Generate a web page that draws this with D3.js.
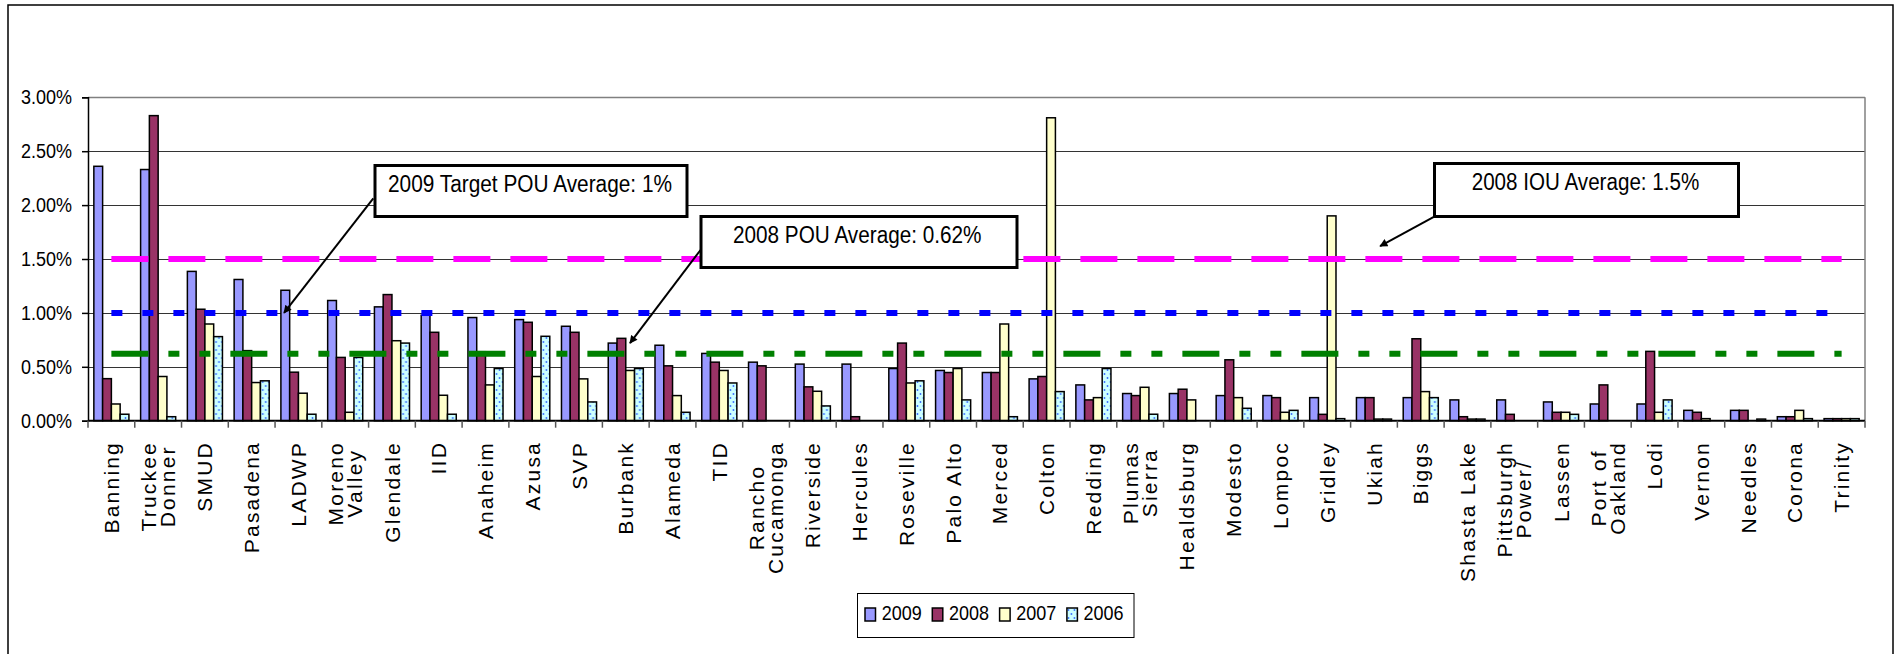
<!DOCTYPE html>
<html>
<head>
<meta charset="utf-8">
<script src="https://cdn.jsdelivr.net/npm/d3@7"></script>
<style>
  html, body { margin: 0; padding: 0; background: #fff; }
  svg { display: block; font-family: "Liberation Sans", Arial, sans-serif; }
</style>
</head>
<body>
<svg id="chart" width="1894" height="654"></svg>
<script>
//categories (utilities), "\n" marks the label line breaks
var categories = ["Banning", "Truckee\nDonner", "SMUD", "Pasadena", "LADWP", "Moreno\nValley",
  "Glendale", "IID", "Anaheim", "Azusa", "SVP", "Burbank", "Alameda", "TID", "Rancho\nCucamonga",
  "Riverside", "Hercules", "Roseville", "Palo Alto", "Merced", "Colton", "Redding", "Plumas\nSierra",
  "Healdsburg", "Modesto", "Lompoc", "Gridley", "Ukiah", "Biggs", "Shasta Lake", "Pittsburgh\nPower/",
  "Lassen", "Port of\nOakland", "Lodi", "Vernon", "Needles", "Corona", "Trinity"];

//series values in percent
var v2009 = [2.36, 2.33, 1.385, 1.31, 1.21, 1.115, 1.056, 0.978, 0.957, 0.938, 0.876, 0.72, 0.70, 0.624,
  0.543, 0.525, 0.525, 0.484, 0.466, 0.447, 0.388, 0.332, 0.252, 0.252, 0.233, 0.233, 0.214, 0.214,
  0.214, 0.193, 0.193, 0.174, 0.155, 0.155, 0.096, 0.096, 0.037, 0.019];
var v2008 = [0.39, 2.83, 1.034, 0.65, 0.45, 0.587, 1.17, 0.82, 0.64, 0.913, 0.82, 0.764, 0.509, 0.543,
  0.509, 0.314, 0.037, 0.72, 0.447, 0.447, 0.41, 0.193, 0.233, 0.292, 0.565, 0.214, 0.059, 0.214,
  0.76, 0.037, 0.059, 0.078, 0.332, 0.643, 0.078, 0.096, 0.037, 0.019];
var v2007 = [0.155, 0.41, 0.897, 0.354, 0.255, 0.078, 0.742, 0.236, 0.332, 0.41, 0.388, 0.466, 0.233, 0.466,
  0, 0.273, 0, 0.35, 0.484, 0.897, 2.81, 0.214, 0.31, 0.193, 0.214, 0.078, 1.9, 0.015,
  0.27, 0.015, 0, 0.078, 0, 0.078, 0.019, 0, 0.096, 0.019];
var v2006 = [0.06, 0.037, 0.78, 0.37, 0.06, 0.587, 0.72, 0.06, 0.484, 0.783, 0.174, 0.484, 0.078, 0.35,
  0, 0.137, 0, 0.37, 0.193, 0.037, 0.27, 0.484, 0.06, 0, 0.115, 0.096, 0.019, 0.015,
  0.214, 0.015, 0, 0.059, 0, 0.193, 0, 0.015, 0.019, 0.019];

var seriesKeys = ["2009", "2008", "2007", "2006"];
var yTicks = [0, 0.5, 1, 1.5, 2, 2.5, 3];

//reference lines (percent)
var iouAvg2008 = 1.5;
var targetPou2009 = 1.0;
var pouAvg2008 = 0.62;

//callouts
var callouts = [
  { text: "2009 Target POU Average: 1%", target: "LADWP", value: 1.0 },
  { text: "2008 POU Average: 0.62%", target: "Burbank", value: 0.72 },
  { text: "2008 IOU Average: 1.5%", target: "Ukiah", value: 1.62 }
];

var svg = d3.select("#chart");

//colors
var fills = { "2009": "#9999ff", "2008": "#993366", "2007": "#ffffcc", "2006": "url(#dots)" };

//dotted pattern for 2006
var defs = svg.append("defs");
var pat = defs.append("pattern")
  .attr("id", "dots")
  .attr("patternUnits", "userSpaceOnUse")
  .attr("width", 6).attr("height", 8);
pat.append("rect").attr("width", 6).attr("height", 8).attr("fill", "#ccffff");
pat.append("circle").attr("cx", 1.5).attr("cy", 2).attr("r", 0.9).attr("fill", "#3366ff");
pat.append("circle").attr("cx", 4.5).attr("cy", 6).attr("r", 0.9).attr("fill", "#3366ff");

defs.append("marker")
  .attr("id", "arrow")
  .attr("viewBox", "0 0 10 10")
  .attr("refX", 9).attr("refY", 5)
  .attr("markerWidth", 9).attr("markerHeight", 8)
  .attr("markerUnits", "userSpaceOnUse")
  .attr("orient", "auto")
  .append("path").attr("d", "M0,0 L10,5 L0,10 z").attr("fill", "#000");

//outer frame
svg.append("rect")
  .attr("x", 8).attr("y", 5)
  .attr("width", 1885).attr("height", 700)
  .attr("fill", "none").attr("stroke", "#000").attr("stroke-width", 1.5);

//scales
var plotLeft = 88, plotRight = 1865, plotTop = 97.3, plotBottom = 420.7;

var x0 = d3.scaleBand()
  .domain(categories)
  .range([plotLeft, plotRight])
  .padding(0);

var barPad = x0.bandwidth() * 0.125;
var x1 = d3.scaleBand()
  .domain(seriesKeys)
  .range([barPad, x0.bandwidth() - barPad])
  .padding(0);

var y = d3.scaleLinear()
  .domain([0, 3])
  .range([plotBottom, plotTop]);

//gridlines
svg.append("g")
  .selectAll("line")
  .data(yTicks.filter(function(d) { return d > 0; }))
  .enter().append("line")
    .attr("x1", plotLeft).attr("x2", plotRight)
    .attr("y1", function(d) { return Math.round(y(d)) + 0.5; })
    .attr("y2", function(d) { return Math.round(y(d)) + 0.5; })
    .attr("stroke", function(d) { return d == 3 ? "#808080" : "#333"; })
    .attr("stroke-width", function(d) { return d == 3 ? 1.5 : 1.2; });

//right border of plot area
svg.append("line")
  .attr("x1", plotRight).attr("x2", plotRight)
  .attr("y1", y(3)).attr("y2", y(0))
  .attr("stroke", "#808080").attr("stroke-width", 1.5);

//bars
var table = categories.map(function(c, i) {
  return { cat: c, values: { "2009": v2009[i], "2008": v2008[i], "2007": v2007[i], "2006": v2006[i] } };
});

var groups = svg.append("g")
  .selectAll("g")
  .data(table)
  .enter().append("g")
    .attr("transform", function(d) { return "translate(" + x0(d.cat) + ",0)"; });

groups.selectAll("rect")
  .data(function(d) { return seriesKeys.map(function(k) { return { key: k, value: d.values[k] }; }); })
  .enter().append("rect")
    .filter(function(d) { return d.value > 0; })
    .attr("x", function(d) { return x1(d.key); })
    .attr("width", x1.bandwidth())
    .attr("y", function(d) { return y(d.value); })
    .attr("height", function(d) { return y(0) - y(d.value); })
    .attr("fill", function(d) { return fills[d.key]; })
    .attr("stroke", "#000")
    .attr("stroke-width", 1.5);

//reference lines
var refLine = d3.line()
  .x(function(d) { return x0(d.cat) + x0.bandwidth() / 2; })
  .y(function(d) { return y(d.v); });

function drawRef(value, color, dash) {
  svg.append("path")
    .datum(categories.map(function(c) { return { cat: c, v: value }; }))
    .attr("d", refLine)
    .attr("fill", "none")
    .attr("stroke", color)
    .attr("stroke-width", 6)
    .attr("stroke-dasharray", dash);
}
drawRef(iouAvg2008, "#ff00ff", "37,20");
drawRef(targetPou2009, "#0000ff", "11,20");
drawRef(pouAvg2008, "#008000", "37,20,11,20,11,20");

//y axis
var yAxis = svg.append("g")
  .attr("transform", "translate(" + plotLeft + ",0)")
  .call(d3.axisLeft(y)
    .tickValues(yTicks)
    .tickSize(6)
    .tickPadding(10)
    .tickFormat(function(d) { return d.toFixed(2) + "%"; }));
yAxis.select(".domain").attr("stroke", "#000").attr("stroke-width", 1.5);
yAxis.selectAll(".tick line").attr("stroke", "#000").attr("stroke-width", 1.5);
yAxis.selectAll(".tick text")
  .attr("fill", "#000")
  .style("font-size", "20px")
  .style("font-family", "Liberation Sans, Arial, sans-serif")
  .attr("textLength", 51)
  .attr("lengthAdjust", "spacingAndGlyphs");

//x axis line and ticks at category boundaries
svg.append("line")
  .attr("x1", plotLeft).attr("x2", plotRight)
  .attr("y1", y(0)).attr("y2", y(0))
  .attr("stroke", "#000").attr("stroke-width", 2);

var bounds = categories.map(function(c) { return x0(c); }).concat([plotRight]);
svg.append("g")
  .selectAll("line")
  .data(bounds)
  .enter().append("line")
    .attr("x1", function(d) { return d; }).attr("x2", function(d) { return d; })
    .attr("y1", y(0)).attr("y2", y(0) + 7)
    .attr("stroke", "#555").attr("stroke-width", 1.5);

//x labels (rotated)
var lh = 19;
var labels = svg.append("g")
  .selectAll("g")
  .data(categories)
  .enter().append("g")
    .attr("transform", function(d) {
      return "translate(" + (x0(d) + x0.bandwidth() / 2) + ",441) rotate(-90)";
    });

labels.each(function(d) {
  var g = d3.select(this);
  var lines = d.split("\n");
  var n = lines.length;
  var texts = lines.map(function(s, i) {
    return g.append("text")
      .attr("text-anchor", "end")
      .attr("y", (i - (n - 1) / 2) * lh)
      .attr("dy", "0.36em")
      .style("font-size", "21px")
      .style("letter-spacing", "2.2px")
      .attr("fill", "#000")
      .text(s);
  });
  var lens = texts.map(function(t) { return t.node().getComputedTextLength(); });
  var maxLen = d3.max(lens);
  texts.forEach(function(t, i) {
    t.attr("x", -(maxLen - lens[i]) / 2);
  });
});

//callouts
var boxes = [
  { x: 375, y: 165.5, w: 312, h: 51, tx: 388, tl: 284, by: 191.7, from: [373.3, 198.3], dx: 9 },
  { x: 701, y: 216.5, w: 316, h: 51, tx: 733, tl: 248.5, by: 242.5, from: [700.5, 250], dx: 27.6 },
  { x: 1434.5, y: 163.5, w: 304, h: 53, tx: 1471.7, tl: 227.6, by: 190, from: [1434.3, 216.7], dx: 29.5 }
];

callouts.forEach(function(c, i) {
  var b = boxes[i];
  svg.append("line")
    .attr("x1", b.from[0]).attr("y1", b.from[1])
    .attr("x2", x0(c.target) + b.dx).attr("y2", y(c.value))
    .attr("stroke", "#000").attr("stroke-width", 2)
    .attr("marker-end", "url(#arrow)");
  svg.append("rect")
    .attr("x", b.x).attr("y", b.y)
    .attr("width", b.w).attr("height", b.h)
    .attr("fill", "#fff").attr("stroke", "#000").attr("stroke-width", 3);
  svg.append("text")
    .attr("x", b.tx).attr("y", b.by)
    .style("font-size", "23px")
    .attr("textLength", b.tl)
    .attr("lengthAdjust", "spacingAndGlyphs")
    .attr("fill", "#000")
    .text(c.text);
});

//legend
var legend = svg.append("g");
legend.append("rect")
  .attr("x", 857.5).attr("y", 593.5)
  .attr("width", 276.5).attr("height", 44)
  .attr("fill", "#fff").attr("stroke", "#000").attr("stroke-width", 1);

var items = legend.selectAll("g.item")
  .data(seriesKeys)
  .enter().append("g")
    .attr("class", "item")
    .attr("transform", function(d, i) { return "translate(" + (865 + i * 67.3) + ",0)"; });
items.append("rect")
  .attr("x", 0).attr("y", 608)
  .attr("width", 10.5).attr("height", 13)
  .attr("fill", function(d) { return fills[d]; })
  .attr("stroke", "#000").attr("stroke-width", 1.5);
items.append("text")
  .attr("x", 16.7).attr("y", 620)
  .style("font-size", "21px")
  .attr("textLength", 40)
  .attr("lengthAdjust", "spacingAndGlyphs")
  .attr("fill", "#000")
  .text(function(d) { return d; });
</script>
</body>
</html>
